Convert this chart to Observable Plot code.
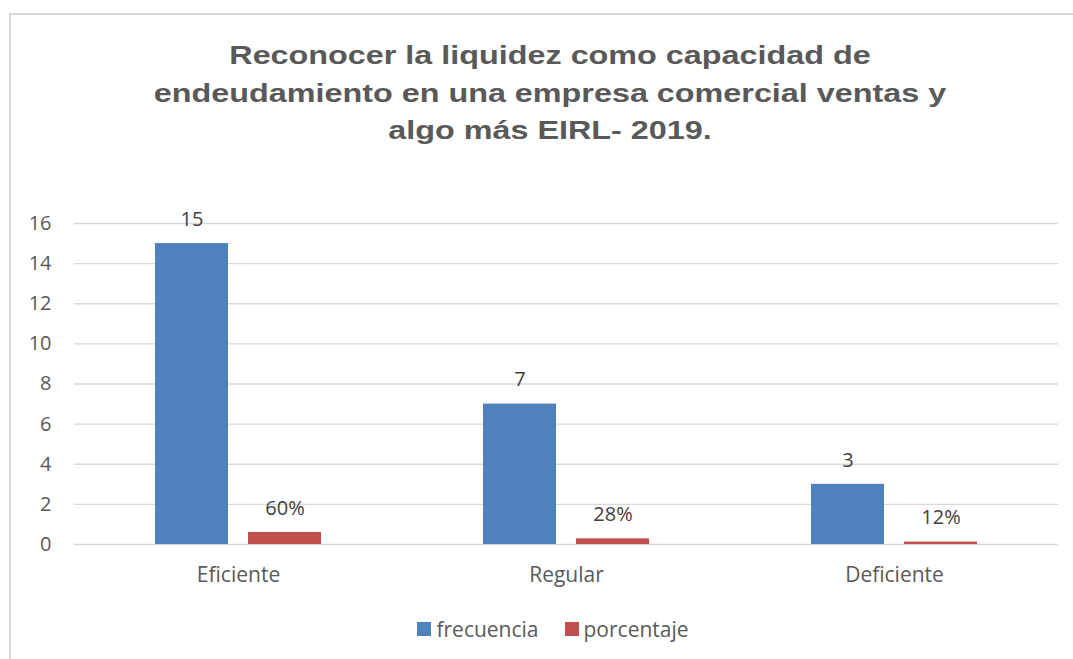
<!DOCTYPE html>
<html>
<head>
<meta charset="utf-8">
<script src="https://cdn.jsdelivr.net/npm/d3@7"></script>
<script src="https://cdn.jsdelivr.net/npm/@observablehq/plot@0.6"></script>
<style>
  html, body { margin: 0; padding: 0; background: #fff; }
  #wrap { position: relative; width: 1073px; height: 659px; overflow: hidden; background: #fff; }
  #frame { position: absolute; left: 9px; top: 13px; width: 1100px; height: 700px; border: 2px solid #d9d9d9; box-sizing: border-box; }
  #title { position: absolute; left: 0; top: 37px; width: 1100px; text-align: center; font-family: "Liberation Sans", Arial, sans-serif; font-weight: bold; font-size: 26.5px; line-height: 37.5px; color: #595959; transform: scaleX(1.22); transform-origin: 50% 0; }
  #chart { position: absolute; left: 0; top: 0; }
  #legend { position: absolute; left: 0; top: 615px; width: 1106px; display: flex; justify-content: center; align-items: center; font-family: "Open Sans", sans-serif; font-size: 21px; color: #595959; }
  .item { display: flex; align-items: center; margin: 0 13px; }
  .sw { width: 14px; height: 14px; margin-right: 5px; }
</style>
</head>
<body>
<div id="wrap">
  <div id="frame"></div>
  <div id="chart"></div>
  <div id="title">Reconocer la liquidez como capacidad de<br>endeudamiento en una empresa comercial ventas y<br>algo más EIRL- 2019.</div>
  <div id="legend"></div>
</div>
<script>
const categories = ["Eficiente", "Regular", "Deficiente"];
const series = ["frecuencia", "porcentaje"];
const colors = ["#4F81BD", "#C0504D"];
const frecuencia = [15, 7, 3];
const porcentaje = [0.60, 0.28, 0.12];
const porcentajeLabels = ["60%", "28%", "12%"];
const yTicks = [0, 2, 4, 6, 8, 10, 12, 14, 16];

const data = categories.flatMap((c, i) => [
  {cat: c, serie: series[0], value: frecuencia[i], label: String(frecuencia[i])},
  {cat: c, serie: series[1], value: porcentaje[i], label: porcentajeLabels[i]}
]);

const chart = Plot.plot({
  width: 1073,
  height: 600,
  marginTop: 223,
  marginBottom: 56,
  marginLeft: 73,
  marginRight: 15,
  style: {fontFamily: "'Open Sans', sans-serif", fontSize: "20px", color: "#595959", background: "transparent"},
  fx: {domain: categories, padding: 0, label: null},
  x: {domain: series, paddingInner: 0.215, paddingOuter: 0.87, axis: null},
  y: {domain: [0, 16], label: null},
  color: {domain: series, range: colors},
  marks: [
    Plot.ruleY(yTicks, {stroke: "#d9d9d9", strokeWidth: 1.3}),
    Plot.axisY({ticks: yTicks, tickSize: 0, tickPadding: 23, label: null, fontSize: 20, fill: "#595959"}),
    Plot.axisFx({anchor: "bottom", tickSize: 0, tickPadding: 23, label: null, fontSize: 21, fill: "#595959"}),
    Plot.barY(data, {fx: "cat", x: "serie", y: "value", fill: "serie"}),
    Plot.text(data, {fx: "cat", x: "serie", y: "value", text: "label", dy: -24, fontSize: 20, fill: "#404040"})
  ]
});
document.getElementById("chart").appendChild(chart);

const legend = document.getElementById("legend");
series.forEach((s, i) => {
  const item = document.createElement("div");
  item.className = "item";
  const sw = document.createElement("span");
  sw.className = "sw";
  sw.style.background = colors[i];
  const t = document.createElement("span");
  t.textContent = s;
  item.appendChild(sw);
  item.appendChild(t);
  legend.appendChild(item);
});
</script>
</body>
</html>
